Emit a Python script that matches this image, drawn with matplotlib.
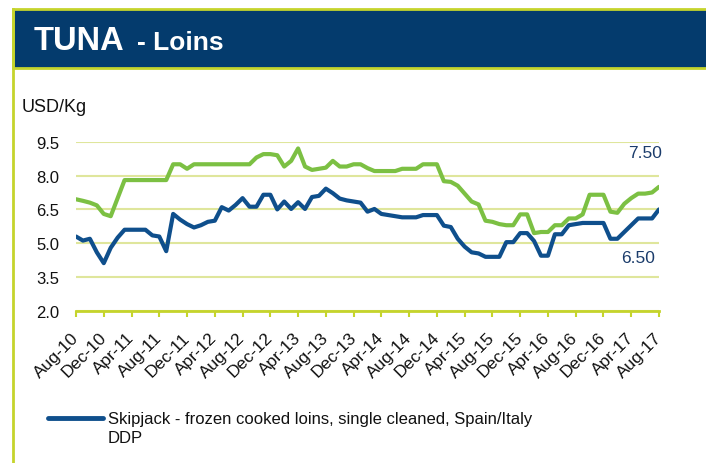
import matplotlib
matplotlib.use('Agg')
import matplotlib.pyplot as plt
import matplotlib.patches as patches
from matplotlib.lines import Line2D
import numpy as np

plt.rcParams['font.family'] = ['Liberation Sans', 'DejaVu Sans']

# monthly prices, Aug-10 .. Aug-17 (USD/Kg)
months = np.arange(85)
tick_labels = ['Aug-10', 'Dec-10', 'Apr-11', 'Aug-11', 'Dec-11', 'Apr-12', 'Aug-12',
               'Dec-12', 'Apr-13', 'Aug-13', 'Dec-13', 'Apr-14', 'Aug-14', 'Dec-14',
               'Apr-15', 'Aug-15', 'Dec-15', 'Apr-16', 'Aug-16', 'Dec-16', 'Apr-17',
               'Aug-17']
y_ticks = [2.0, 3.5, 5.0, 6.5, 8.0, 9.5]

green_series = [6.95, 6.88, 6.80, 6.68, 6.30, 6.20, 7.00, 7.80, 7.80, 7.80,
                7.80, 7.80, 7.80, 7.80, 8.50, 8.50, 8.30, 8.50, 8.50, 8.50,
                8.50, 8.50, 8.50, 8.50, 8.50, 8.50, 8.80, 8.95, 8.95, 8.90,
                8.40, 8.65, 9.20, 8.40, 8.25, 8.30, 8.35, 8.65, 8.40, 8.40,
                8.50, 8.50, 8.33, 8.20, 8.20, 8.20, 8.20, 8.30, 8.30, 8.30,
                8.50, 8.50, 8.50, 7.75, 7.72, 7.55, 7.20, 6.85, 6.72, 6.00,
                5.95, 5.85, 5.80, 5.80, 6.28, 6.28, 5.45, 5.50, 5.50, 5.80,
                5.80, 6.10, 6.10, 6.28, 7.15, 7.15, 7.15, 6.40, 6.35, 6.75,
                7.00, 7.20, 7.20, 7.25, 7.50]

skipjack = [5.30, 5.12, 5.20, 4.60, 4.12, 4.80, 5.25, 5.60, 5.60, 5.60,
            5.60, 5.35, 5.30, 4.65, 6.30, 6.05, 5.85, 5.70, 5.80, 5.95,
            6.00, 6.60, 6.45, 6.70, 7.00, 6.62, 6.62, 7.15, 7.15, 6.50,
            6.85, 6.52, 6.82, 6.52, 7.05, 7.10, 7.42, 7.22, 6.98, 6.90,
            6.85, 6.80, 6.40, 6.52, 6.30, 6.25, 6.20, 6.15, 6.15, 6.15,
            6.25, 6.25, 6.25, 5.78, 5.72, 5.20, 4.85, 4.60, 4.55, 4.40,
            4.40, 4.40, 5.05, 5.05, 5.45, 5.45, 5.10, 4.45, 4.45, 5.40,
            5.40, 5.80, 5.85, 5.90, 5.90, 5.90, 5.90, 5.20, 5.20, 5.50,
            5.80, 6.10, 6.10, 6.10, 6.50]

legend_label = 'Skipjack - frozen cooked loins, single cleaned, Spain/Italy\nDDP'

# colours
navy = '#043b6d'
lime = '#c5d42c'
grid_color = '#dfe69c'
green = '#7cc043'
blue = '#0f4f8c'
label_blue = '#1b3c6b'

W, H = 706, 464
fig = plt.figure(figsize=(W / 100, H / 100), dpi=100)

# frame + title banner
fig.add_artist(patches.Rectangle((13 / W, (H - 69) / H), 1, 59 / H,
                                 transform=fig.transFigure, facecolor=navy,
                                 edgecolor=lime, lw=2))
fig.add_artist(Line2D([13 / W, 13 / W], [0, (H - 10) / H],
                      transform=fig.transFigure, color=lime, lw=2))
fig.text(34 / W, 1 - 50 / H, 'TUNA', color='white', fontsize=23.5,
         fontweight='bold', va='baseline')
fig.text(137 / W, 1 - 50 / H, '- Loins', color='white', fontsize=19,
         fontweight='bold', va='baseline')
fig.text(22 / W, 1 - 108 / H, 'USD/Kg', fontsize=13, va='center', color='#111111')

# chart
ax = fig.add_axes([76 / W, (H - 312) / H, 583 / W, 169.3 / H])
ax.plot(months, green_series, color=green, lw=3, solid_joinstyle='round',
        solid_capstyle='round', zorder=3)
ax.plot(months, skipjack, color=blue, lw=3, solid_joinstyle='round',
        solid_capstyle='round', zorder=4)

ax.set_xlim(0, 84)
ax.set_ylim(2.0, 9.5)
ax.set_yticks(y_ticks)
ax.set_yticklabels([f'{v:.1f}' for v in y_ticks])
ax.set_xticks(months[::4])
ax.set_xticklabels(tick_labels, rotation=45, ha='right', va='center',
                   rotation_mode='anchor')

ax.yaxis.grid(True, color=grid_color, lw=1.5)
ax.set_axisbelow(True)
for s in ['top', 'right', 'left']:
    ax.spines[s].set_visible(False)
ax.spines['bottom'].set_color(lime)
ax.spines['bottom'].set_linewidth(2)
ax.tick_params(axis='y', length=0, pad=12, labelsize=12, labelcolor='#111111')
ax.tick_params(axis='x', length=4, width=1.5, color=lime, pad=13,
               labelsize=12.5, labelcolor='#111111')

# end-of-series labels
ax.annotate(f'{green_series[-1]:.2f}', xy=(months[-1], green_series[-1]),
            xytext=(2, 25), textcoords='offset points', ha='right', va='center',
            fontsize=12.5, color=label_blue)
ax.annotate(f'{skipjack[-1]:.2f}', xy=(months[-1], skipjack[-1]),
            xytext=(-3, -34.5), textcoords='offset points', ha='right',
            va='center', fontsize=12.5, color=label_blue)

# legend (line sits level with the first text line)
fig.add_artist(Line2D([48 / W, 103 / W], [1 - 419 / H, 1 - 419 / H],
                      transform=fig.transFigure, color=blue, lw=3.5,
                      solid_capstyle='round'))
fig.text(108 / W, 1 - 429 / H, legend_label, fontsize=12, va='center',
         color='#111111', linespacing=1.35)

fig.savefig('out.png', dpi=100)
